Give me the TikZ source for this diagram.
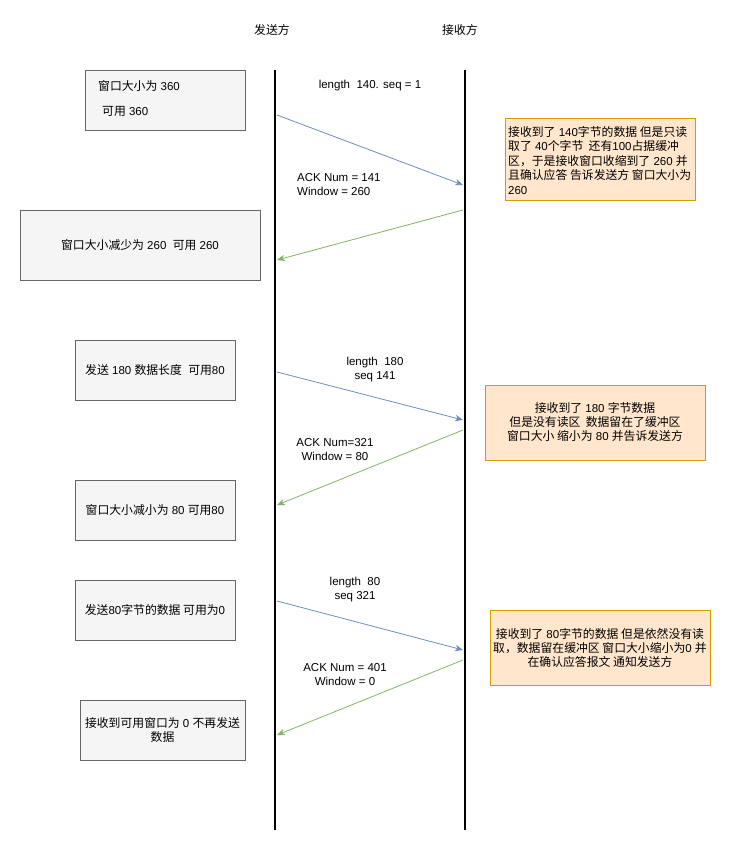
\documentclass[tikz,border=0pt]{standalone}
\usepackage{fontspec}
\setmainfont{Liberation Sans}
\newfontfamily\cjk[Scale=1.03]{Noto Sans CJK SC}
\newcommand\zh[1]{{\cjk #1}}
\usetikzlibrary{arrows.meta}
\definecolor{graybg}{HTML}{F5F5F5}
\definecolor{grayline}{HTML}{666666}
\definecolor{orangebg}{HTML}{FFE6CC}
\definecolor{orangeline}{HTML}{D79B00}
\definecolor{bluearrow}{HTML}{6C8EBF}
\definecolor{greenarrow}{HTML}{82B366}
\begin{document}
\begin{tikzpicture}[x=1pt,y=-1pt,
  every node/.style={font=\fontsize{11.5}{14}\selectfont, inner sep=0pt},
  lifeline/.style={line width=1.6pt, black},
  graybox/.style={draw=grayline, fill=graybg, line width=0.8pt, minimum width=#1},
  orangebox/.style={draw=orangeline, fill=orangebg, line width=0.8pt},
  sendarrow/.style={draw=bluearrow, line width=0.8pt, -{Stealth[length=8pt,width=6.5pt,inset=2.5pt]}},
  ackarrow/.style={draw=greenarrow, line width=0.8pt, -{Stealth[length=8pt,width=6.5pt,inset=2.5pt]}},
  lbl/.style={align=center}
]
\useasboundingbox (0,0) rectangle (731,852);

% headers
\node (hs) at (272,30) {\zh{发送方}};
\node (hr) at (460,30) {\zh{接收方}};

% lifelines
\coordinate (s0) at (275,70);
\coordinate (s1) at (275,830);
\coordinate (r0) at (465,70);
\coordinate (r1) at (465,830);
\draw[lifeline] (s0) -- (s1);
\draw[lifeline] (r0) -- (r1);

% sender side boxes
\node[graybox=160pt, minimum height=60pt] (b1) at (165,100) {};
\node[anchor=west] (b1a) at (98,86) {\zh{窗口大小为} 360};
\node[anchor=west] (b1b) at (102,111) {\zh{可用} 360};

\node[graybox=240pt, minimum height=70pt] (b2) at (140,245) {\zh{窗口大小减少为} 260~~\zh{可用} 260};
\node[graybox=160pt, minimum height=60pt] (b3) at (155,370) {\zh{发送} 180 \zh{数据长度}~~\zh{可用}80};
\node[graybox=160pt, minimum height=60pt] (b4) at (155,510) {\zh{窗口大小减小为} 80 \zh{可用}80};
\node[graybox=160pt, minimum height=60pt] (b5) at (155,610) {\zh{发送}80\zh{字节的数据 可用为}0};
\node[graybox=165pt, minimum height=60pt, align=center] (b6) at (162.5,730) {\zh{接收到可用窗口为} 0 \zh{不再发送}\\\zh{数据}};

% receiver side boxes
\node[orangebox, minimum width=190pt, minimum height=82pt] (r1box) at (600,159) {};
\node[anchor=north west, align=left, font=\fontsize{11.5}{14.5}\selectfont] (r1txt) at (508,126)
  {\zh{接收到了} 140\zh{字节的数据 但是只读}\\
   \zh{取了} 40\zh{个字节~~还有}100\zh{占据缓冲}\\
   \zh{区，于是接收窗口收缩到了} 260 \zh{并}\\
   \zh{且确认应答 告诉发送方 窗口大小为}\\
   260};
\node[orangebox, minimum width=220pt, minimum height=75pt, align=center] (r2box) at (595,422.5)
  {\zh{接收到了} 180 \zh{字节数据}\\
   \zh{但是没有读区~~数据留在了缓冲区}\\
   \zh{窗口大小 缩小为} 80 \zh{并告诉发送方}};
\node[orangebox, minimum width=220pt, minimum height=75pt, align=center] (r3box) at (600,647.5)
  {\zh{接收到了} 80\zh{字节的数据 但是依然没有读}\\
   \zh{取，数据留在缓冲区 窗口大小缩小为}0 \zh{并}\\
   \zh{在确认应答报文 通知发送方}};

% arrow endpoints
\coordinate (p1s) at (277,115);
\coordinate (p1r) at (463,185);
\coordinate (q1r) at (463,210);
\coordinate (q1s) at (277,260);
\coordinate (p2s) at (277,372);
\coordinate (p2r) at (463,420);
\coordinate (q2r) at (463,430);
\coordinate (q2s) at (277,505);
\coordinate (p3s) at (277,601);
\coordinate (p3r) at (463,650);
\coordinate (q3r) at (463,660);
\coordinate (q3s) at (277,735);

\draw[sendarrow] (p1s) -- (p1r);
\draw[ackarrow] (q1r) -- (q1s);
\draw[sendarrow] (p2s) -- (p2r);
\draw[ackarrow] (q2r) -- (q2s);
\draw[sendarrow] (p3s) -- (p3r);
\draw[ackarrow] (q3r) -- (q3s);

% labels
\node (l1) at (370,86) {length~~140. seq = 1};
\node[anchor=west, align=left] (l2) at (297,185) {ACK Num = 141\\Window = 260};
\node[lbl] (l3) at (375,370) {length~~180\\seq 141};
\node[lbl] (l4) at (335,450) {ACK Num=321\\Window = 80};
\node[lbl] (l5) at (355,590) {length~~80\\seq 321};
\node[lbl] (l6) at (345,675) {ACK Num = 401\\Window = 0};
\end{tikzpicture}
\end{document}
